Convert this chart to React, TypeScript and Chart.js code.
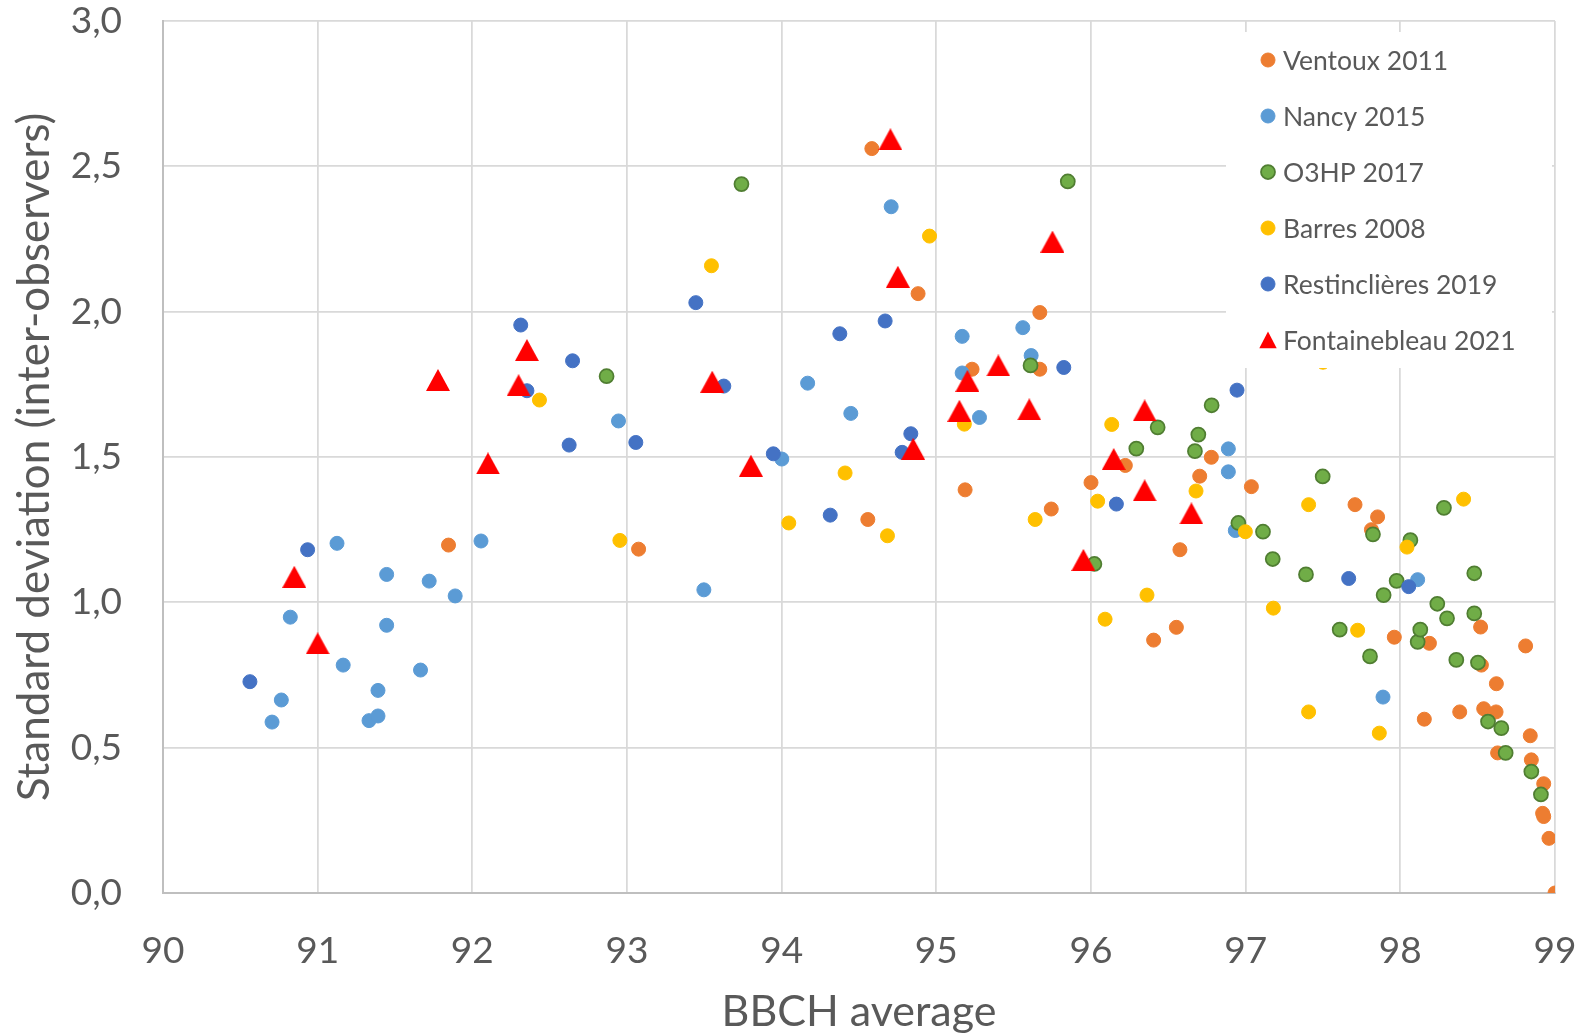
import React, { useEffect, useRef } from "react";
import { Chart, registerables } from "chart.js";

Chart.register(...registerables);

const seriesNames = [
  "Ventoux 2011",
  "Nancy 2015",
  "O3HP 2017",
  "Barres 2008",
  "Restinclières 2019",
  "Fontainebleau 2021",
];

const ventouxX = [91.846, 93.075, 94.557, 94.583, 94.882, 95.186, 95.231, 95.669, 95.669, 95.743, 96.0, 96.222, 96.405, 96.552, 96.575, 96.703, 96.778, 97.037, 97.707, 97.813, 97.853, 97.961, 98.155, 98.188, 98.384, 98.519, 98.524, 98.539, 98.619, 98.621, 98.629, 98.81, 98.84, 98.847, 98.92, 98.927, 98.927, 98.961, 99.0];
const ventouxY = [1.197, 1.183, 1.285, 2.561, 2.062, 1.387, 1.802, 1.997, 1.802, 1.321, 1.412, 1.471, 0.87, 0.914, 1.181, 1.434, 1.499, 1.398, 1.336, 1.25, 1.294, 0.88, 0.598, 0.859, 0.623, 0.915, 0.784, 0.634, 0.623, 0.72, 0.482, 0.85, 0.541, 0.458, 0.274, 0.263, 0.376, 0.188, 0.0];

const nancyX = [90.705, 90.765, 90.823, 91.125, 91.165, 91.332, 91.39, 91.39, 91.446, 91.446, 91.665, 91.721, 91.889, 92.056, 92.945, 93.497, 94.001, 94.168, 94.447, 94.708, 95.167, 95.167, 95.279, 95.559, 95.613, 96.888, 96.888, 96.933, 97.888, 98.112];
const nancyY = [0.588, 0.664, 0.949, 1.203, 0.784, 0.593, 0.697, 0.609, 1.096, 0.921, 0.767, 1.073, 1.022, 1.211, 1.624, 1.043, 1.493, 1.754, 1.65, 2.361, 1.915, 1.789, 1.636, 1.945, 1.849, 1.528, 1.449, 1.247, 0.674, 1.078];

const o3hpX = [92.868, 93.74, 95.609, 95.85, 96.022, 96.293, 96.431, 96.672, 96.694, 96.78, 96.953, 97.112, 97.175, 97.39, 97.498, 97.608, 97.804, 97.823, 97.892, 97.976, 98.065, 98.112, 98.129, 98.239, 98.282, 98.302, 98.362, 98.478, 98.478, 98.502, 98.567, 98.653, 98.681, 98.847, 98.909];
const o3hpY = [1.778, 2.439, 1.815, 2.448, 1.132, 1.529, 1.602, 1.52, 1.577, 1.678, 1.273, 1.243, 1.149, 1.096, 1.433, 0.906, 0.814, 1.234, 1.025, 1.074, 1.214, 0.864, 0.906, 0.995, 1.325, 0.945, 0.802, 1.1, 0.962, 0.793, 0.59, 0.567, 0.482, 0.418, 0.339];

const barresX = [92.434, 92.954, 93.546, 94.046, 94.41, 94.684, 94.956, 95.181, 95.639, 96.043, 96.091, 96.134, 96.362, 96.679, 96.998, 97.179, 97.407, 97.407, 97.5, 97.724, 97.864, 98.043, 98.409];
const barresY = [1.696, 1.213, 2.158, 1.273, 1.445, 1.229, 2.26, 1.613, 1.285, 1.348, 0.942, 1.612, 1.025, 1.383, 1.243, 0.98, 1.336, 0.623, 1.826, 0.904, 0.55, 1.19, 1.355];

const restinX = [90.562, 90.935, 92.313, 92.353, 92.626, 92.648, 93.057, 93.445, 93.626, 93.946, 94.314, 94.376, 94.669, 94.779, 94.835, 95.824, 96.164, 96.944, 97.666, 98.054];
const restinY = [0.727, 1.181, 1.954, 1.728, 1.541, 1.831, 1.55, 2.031, 1.744, 1.511, 1.3, 1.924, 1.968, 1.516, 1.58, 1.808, 1.338, 1.73, 1.082, 1.054];

const fontX = [90.849, 91.0, 91.778, 92.101, 92.299, 92.353, 93.551, 93.801, 94.703, 94.751, 94.85, 95.149, 95.201, 95.401, 95.601, 95.751, 95.951, 96.147, 96.347, 96.347, 96.649];
const fontY = [1.088, 0.859, 1.765, 1.478, 1.747, 1.868, 1.759, 1.47, 2.593, 2.12, 1.528, 1.659, 1.762, 1.815, 1.664, 2.241, 1.146, 1.493, 1.66, 1.385, 1.306];

const xMin = 90;
const xMax = 99;
const yMin = 0;
const yMax = 3;
const yStep = 0.5;

const xTitle = "BBCH average";
const yTitle = "Standard deviation (inter-observers)";

const FONT = "Lato, 'Open Sans', sans-serif";
const TEXT = "#595959";

function zip(xs: number[], ys: number[]) {
  return xs.map((x, i) => ({ x, y: ys[i] }));
}

function makeTriangle(w: number, h: number, color: string) {
  const c = document.createElement("canvas");
  c.width = w;
  c.height = h;
  const g = c.getContext("2d")!;
  g.fillStyle = color;
  g.beginPath();
  g.moveTo(w / 2, 0);
  g.lineTo(w, h);
  g.lineTo(0, h);
  g.closePath();
  g.fill();
  return c;
}

const insetLegend = {
  id: "insetLegend",
  afterDatasetsDraw(chart: any) {
    const { ctx, chartArea } = chart;
    const left = chartArea.right - 329;
    const top = chartArea.top + 11;
    const w = 326;
    const h = 336;
    ctx.save();
    ctx.fillStyle = "#ffffff";
    ctx.fillRect(left, top, w, h);
    ctx.font = `26.5px ${FONT}`;
    ctx.textBaseline = "middle";
    ctx.textAlign = "left";
    chart.data.datasets.forEach((ds: any, i: number) => {
      const cy = top + 28 + i * 56;
      const mx = left + 42;
      if (ds.legendShape === "triangle") {
        ctx.fillStyle = ds.pointBackgroundColor;
        ctx.beginPath();
        ctx.moveTo(mx, cy - 8.5);
        ctx.lineTo(mx + 8.7, cy + 8.2);
        ctx.lineTo(mx - 8.7, cy + 8.2);
        ctx.closePath();
        ctx.fill();
      } else {
        ctx.beginPath();
        ctx.arc(mx, cy, 7, 0, Math.PI * 2);
        ctx.fillStyle = ds.pointBackgroundColor;
        ctx.fill();
        ctx.lineWidth = ds.pointBorderWidth;
        ctx.strokeStyle = ds.pointBorderColor;
        ctx.stroke();
      }
      ctx.fillStyle = TEXT;
      ctx.fillText(ds.label, left + 57, cy + 1);
    });
    ctx.restore();
  },
};

export default function App() {
  const ref = useRef<HTMLCanvasElement | null>(null);

  useEffect(() => {
    if (!ref.current) return;
    const tri = makeTriangle(24, 22, "#FF0000");
    const dot = (label: string, data: any[], fill: string, border: string, bw: number, order: number) => ({
      label,
      data,
      pointBackgroundColor: fill,
      pointBorderColor: border,
      pointBorderWidth: bw,
      pointRadius: 7,
      pointHoverRadius: 7,
      backgroundColor: fill,
      borderColor: border,
      showLine: false,
      order,
      legendShape: "circle",
    });
    const chart = new Chart(ref.current, {
      type: "scatter",
      data: {
        datasets: [
          dot(seriesNames[0], zip(ventouxX, ventouxY), "#ED7D31", "#ED7D31", 1, 6),
          dot(seriesNames[1], zip(nancyX, nancyY), "#5B9BD5", "#5B9BD5", 1, 5),
          dot(seriesNames[2], zip(o3hpX, o3hpY), "#70AD47", "#507E32", 1.75, 4),
          dot(seriesNames[3], zip(barresX, barresY), "#FFC000", "#FFC000", 1, 3),
          dot(seriesNames[4], zip(restinX, restinY), "#4472C4", "#4472C4", 1, 2),
          {
            label: seriesNames[5],
            data: zip(fontX, fontY),
            pointStyle: tri,
            pointBackgroundColor: "#FF0000",
            pointBorderColor: "#FF0000",
            pointBorderWidth: 0,
            backgroundColor: "#FF0000",
            borderColor: "#FF0000",
            pointRadius: 11,
            showLine: false,
            order: 1,
            legendShape: "triangle",
          } as any,
        ],
      },
      options: {
        responsive: false,
        devicePixelRatio: 1,
        animation: false,
        events: [],
        layout: { padding: { top: 21, right: 37, left: 0, bottom: 0 } },
        plugins: {
          legend: { display: false },
          tooltip: { enabled: false },
        },
        scales: {
          x: {
            type: "linear",
            min: xMin,
            max: xMax,
            afterFit: (s: any) => {
              s.height = 142;
              s.paddingLeft = 0;
              s.paddingRight = 0;
            },
            ticks: {
              stepSize: 1,
              padding: 36,
              color: TEXT,
              font: { family: FONT, size: 37 },
              callback: (v: any) => String(v),
            },
            grid: { color: "#D9D9D9", lineWidth: 1.75, drawTicks: false },
            border: { display: true, color: "#BFBFBF", width: 2 },
            title: {
              display: true,
              text: xTitle,
              color: TEXT,
              font: { family: FONT, size: 43 },
              padding: { top: 0, bottom: -3 },
            },
          },
          y: {
            type: "linear",
            min: yMin,
            max: yMax,
            afterFit: (s: any) => {
              s.width = 163;
              s.paddingTop = 0;
              s.paddingBottom = 0;
            },
            ticks: {
              stepSize: yStep,
              padding: 41,
              color: TEXT,
              font: { family: FONT, size: 37, lineHeight: 1 },
              callback: (v: any) => Number(v).toFixed(1).replace(".", ","),
            },
            grid: { color: "#D9D9D9", lineWidth: 1.75, drawTicks: false },
            border: { display: true, color: "#BFBFBF", width: 2 },
            title: {
              display: true,
              text: yTitle,
              color: TEXT,
              font: { family: FONT, size: 44 },
              padding: { top: 8, bottom: 0 },
            },
          },
        },
      },
      plugins: [insetLegend],
    });
    return () => chart.destroy();
  }, []);

  return (
    <div style={{ position: "absolute", left: 0, top: 0, width: 1592, height: 1035, background: "#ffffff" }}>
      <canvas ref={ref} width={1592} height={1035} style={{ display: "block", width: 1592, height: 1035 }} />
    </div>
  );
}
